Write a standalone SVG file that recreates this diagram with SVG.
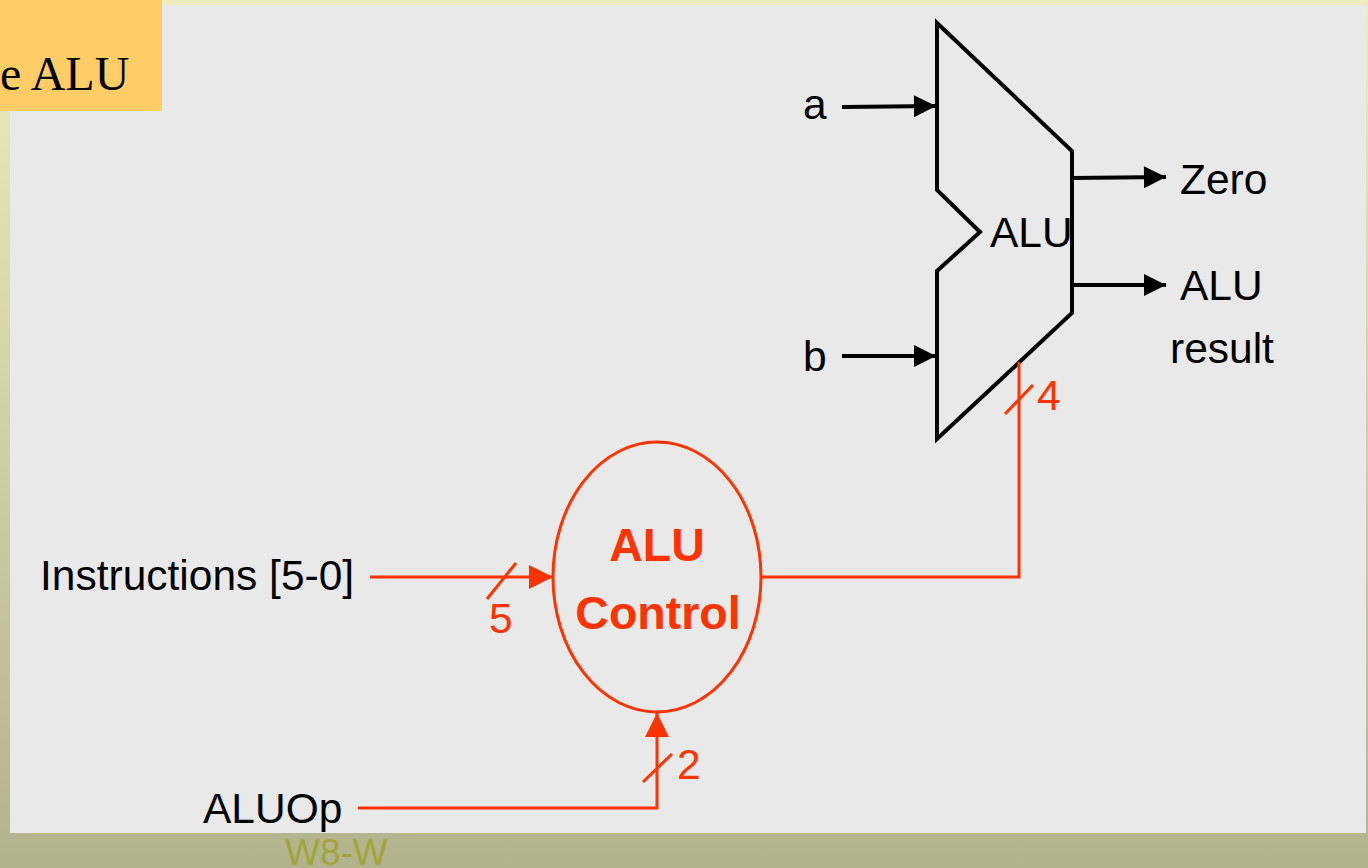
<svg xmlns="http://www.w3.org/2000/svg" width="1368" height="868" viewBox="0 0 1368 868">
<defs>
<linearGradient id="bg" x1="0" y1="0" x2="0" y2="1">
<stop offset="0" stop-color="#EFECBD"/>
<stop offset="1" stop-color="#B2B28D"/>
</linearGradient>
<marker id="ab" viewBox="0 0 10 10" refX="10" refY="5" markerWidth="6.5" markerHeight="5.5" orient="auto" markerUnits="strokeWidth">
<path d="M0,0 L10,5 L0,10 Z" fill="#000"/>
</marker>
<marker id="ar" viewBox="0 0 10 10" refX="10" refY="5" markerWidth="8.5" markerHeight="8" orient="auto" markerUnits="strokeWidth">
<path d="M0,0 L10,5 L0,10 Z" fill="#FF3300"/>
</marker>
</defs>
<style>
.t{font-family:"Liberation Sans",Arial,Helvetica,sans-serif;font-size:42.5px;fill:#000}
.r{fill:#FF3300}
.b{font-weight:bold;font-size:46.5px}
.blk{stroke:#000;stroke-width:4;fill:none}
.red{stroke:#FF3300;stroke-width:3;fill:none}
</style>
<rect x="0" y="0" width="1368" height="868" fill="url(#bg)"/>
<rect x="10" y="5" width="1356" height="828" fill="#E9E9E9"/>
<g id="title">
<rect x="0" y="0" width="162" height="111" fill="#FFCC66"/>
<text x="0" y="90" font-family="'Liberation Serif','Times New Roman',serif" font-size="48" fill="#000">e ALU</text>
</g>
<g id="alu">
<path class="blk" stroke-width="4.5" stroke-linejoin="miter" d="M937,23 L1072,151 L1072,313 L937,439 L937,271 L980,232 L937,190 Z"/>
<text class="t" x="990" y="247" font-size="41">ALU</text>
</g>
<g id="alu-control">
<ellipse cx="657" cy="577" rx="104" ry="135" fill="none" stroke="#FF3300" stroke-width="3"/>
<text class="t r b" x="657" y="561" text-anchor="middle">ALU</text>
<text class="t r b" x="658" y="629" text-anchor="middle">Control</text>
</g>
<g id="labels">
<text class="t" x="803" y="119">a</text>
<text class="t" x="803" y="371">b</text>
<text class="t" x="1180" y="194">Zero</text>
<text class="t" x="1180" y="300">ALU</text>
<text class="t" x="1170" y="363">result</text>
<text class="t" x="40" y="590">Instructions [5-0]</text>
<text class="t" x="203" y="823">ALUOp</text>
<text class="t r" x="489" y="633">5</text>
<text class="t r" x="677" y="779">2</text>
<text class="t r" x="1037" y="410">4</text>
<text x="285" y="865" font-family="'Liberation Sans',Arial,sans-serif" font-size="37" fill="#A3A33C">W8-W</text>
</g>
<g id="connectors">
<line class="blk" x1="842" y1="107" x2="936" y2="106" marker-end="url(#ab)"/>
<line class="blk" x1="842" y1="356" x2="936" y2="356" marker-end="url(#ab)"/>
<line class="blk" x1="1072" y1="178" x2="1166" y2="177" marker-end="url(#ab)"/>
<line class="blk" x1="1072" y1="285" x2="1166" y2="285" marker-end="url(#ab)"/>
<line class="red" x1="370" y1="577" x2="553" y2="577" marker-end="url(#ar)"/>
<line class="red" x1="487" y1="599" x2="516" y2="563"/>
<polyline class="red" points="761,577 1019,577 1019,362"/>
<line class="red" x1="1005" y1="414" x2="1033" y2="385"/>
<polyline class="red" points="358,808 657,808 657,713" marker-end="url(#ar)"/>
<line class="red" x1="643" y1="782" x2="672" y2="754"/>
</g>
</svg>
